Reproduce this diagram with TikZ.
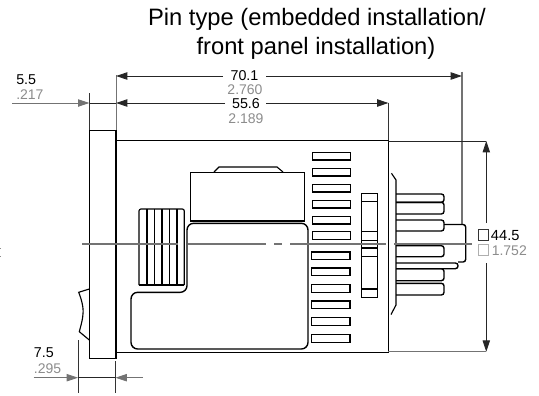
\documentclass[tikz,border=0pt]{standalone}
\usepackage{fontspec}
\setmainfont{Liberation Sans}
\usetikzlibrary{arrows.meta}
\definecolor{dimgray}{gray}{0.55}
\definecolor{extgray}{gray}{0.45}
\tikzset{
  outl/.style={draw=black,line width=1.05pt,line join=miter},
  thin outl/.style={draw=black,line width=0.85pt},
  extl/.style={draw=black!80,line width=0.6pt},
  gextl/.style={draw=extgray,line width=0.9pt},
  diml/.style={draw=black!85,line width=0.65pt},
  tip/.style={-{Triangle[length=8.5pt,width=5.5pt]}},
  inch/.style={text=dimgray,font=\fontsize{10.5}{12}\selectfont,inner sep=0pt,anchor=base},
  mm/.style={text=black,font=\fontsize{10.7}{12}\selectfont,inner sep=0pt,anchor=base},
  titletxt/.style={text=black,font=\fontsize{17.8}{20}\selectfont,inner sep=0pt,anchor=base},
  slot/.style={draw=black,line width=1.05pt},
  pinrow/.style={draw=black,line width=1.05pt,rounded corners=2pt},
}
\begin{document}
\begin{tikzpicture}[x=0.75pt,y=-0.75pt]
\useasboundingbox (0,0) rectangle (539,396);
% title
\node[titletxt] (t1) at (317,25) {Pin type (embedded installation/};
\node[titletxt] (t2) at (316,54) {front panel installation)};
% stray fragment at the left edge
\draw[dimgray,line width=0.5pt] (0,248) -- (1,248) (0,256) -- (1,256);
% extension lines
\coordinate (e1a) at (89.5,93); \coordinate (e1b) at (89.5,130);
\coordinate (e2a) at (116,75); \coordinate (e2b) at (116,130);
\coordinate (e3a) at (388.5,102.5); \coordinate (e3b) at (388.5,141);
\coordinate (e4a) at (462,71.5); \coordinate (e4b) at (462,224);
\draw[extl] (e1a) -- (e1b);
\draw[gextl,line width=0.75pt] (e2a) -- (e2b);
\draw[extl] (e3a) -- (e3b);
\draw[gextl] (e4a) -- (e4b);
% top dims
\coordinate (d70l) at (116,76); \coordinate (d70r) at (462,76);
\coordinate (d70ml) at (223,76); \coordinate (d70mr) at (266,76);
\draw[diml,tip] (d70ml) -- (d70l);
\draw[diml,tip] (d70mr) -- (d70r);
\coordinate (d55s) at (12,103); \coordinate (d55a) at (89.5,103);
\coordinate (d55l) at (116,103); \coordinate (d55r) at (388.5,103);
\coordinate (d55ml) at (225,103); \coordinate (d55mr) at (266,103);
\draw[gextl,line width=0.6pt,tip] (d55s) -- (d55a);
\draw[diml] (d55a) -- (d55l);
\draw[diml,tip] (d55ml) -- (d55l);
\draw[diml,tip] (d55mr) -- (d55r);
\node[mm] (m70) at (244.5,80) {70.1};
\node[inch] (i70) at (245,94) {2.760};
\node[mm] (m55) at (246,108.3) {55.6};
\node[inch] (i55) at (246,123) {2.189};
\node[mm,anchor=base west] (m5) at (16,84.3) {5.5};
\node[inch,anchor=base west] (i5) at (16,99) {.217};
% panel and body
\draw[outl] (89.5,130.3) rectangle (116,358.7);
\draw[outl,line width=1.3pt] (116,130.3) -- (116,358.7);
\draw[outl] (116,140.7) -- (388.3,140.7) -- (388.3,352.7) -- (116,352.7);
% thumb tab
\draw[thin outl] (89.3,289) -- (78.7,292.3) .. controls (82.5,302) and (84,310) .. (82.7,317) .. controls (82,322) and (80.5,327) .. (79.3,331.7) -- (89.3,340);
% top box and bump
\draw[outl] (190.7,172.3) rectangle (304.3,221);
\draw[thin outl] (214,172) -- (219,167) -- (277,167) -- (283,172);
% large rounded window
\draw[outl,rounded corners=5pt] (187,292.3) -- (187,223.3) -- (308,223.3) -- (308,349) -- (131,349) -- (131,292.3) -- cycle;
% knurl
\draw[thin outl,rounded corners=1.5pt] (139,285) -- (139,209) -- (184.3,209) -- (184.3,285);
\draw[thin outl] (139,285) -- (184.3,285);
\foreach \kx in {147,154.5,162,169.5,177}
  \draw[thin outl] (\kx,209) -- (\kx,285);
% slots
\foreach \sy in {152.3,168.3,184.3,200.3,216.3,231.7}
  \draw[slot] (312.7,\sy) rectangle ++(38,7.7);
\foreach \sy in {252,268,284.5,301,317.7,334.5}
  \draw[slot] (311.7,\sy) rectangle ++(38.3,7.7);
% vertical element
\draw[outl] (361.7,193.3) rectangle (377.3,297.5);
\foreach \vy in {201.7,231.7,240.7,248,256.7,289}
  \draw[outl] (361.7,\vy) -- (377.3,\vy);
% right plate
\draw[thin outl] (391.5,173.3) -- (396,180) -- (396,305) -- (391,314.5);
% pins
\draw[pinrow] (396,194) -- (444,194) -- (444,202.3) -- (396,202.3);
\draw[pinrow] (396,202.3) -- (444,202.3) -- (444,214) -- (396,214);
\draw[pinrow] (396,220) -- (444,220) -- (444,231) -- (396,231);
\draw[pinrow] (396,245.7) -- (444,245.7) -- (444,256.7) -- (396,256.7);
\draw[pinrow] (396,263) -- (458,263) -- (458,268.7) -- (396,268.7);
\draw[pinrow] (396,268.7) -- (444,268.7) -- (444,280.7) -- (396,280.7);
\draw[pinrow] (396,283.3) -- (444,283.3) -- (444,295) -- (396,295);
\draw[pinrow] (444,224.5) -- (465.7,224.5) -- (465.7,262) -- (458,262);
% centre line
\foreach \a/\b in {82/178,188/266,274/282,290/386,394/472}
  \draw[draw=extgray,line width=0.85pt] (\a,244) -- (\b,244);
% right dim
\coordinate (rt) at (486.3,141); \coordinate (rb) at (486.3,351.7);
\coordinate (rm1) at (486.3,223); \coordinate (rm2) at (486.3,263);
\coordinate (b1) at (388.3,141); \coordinate (b2) at (388.3,351.7);
\draw[diml] (b1) -- (rt);
\draw[gextl,line width=0.7pt] (b2) -- (rb);
\draw[diml,tip] (rm1) -- (rt);
\draw[diml,tip] (rm2) -- (rb);
\node[draw=black!80,line width=0.4pt,minimum size=7.8pt,inner sep=0pt,anchor=west] (sq1) at (478,234.7) {};
\node[mm,anchor=base west,font=\fontsize{11}{12}\selectfont] (m44) at (490.7,240) {44.5};
\node[draw=dimgray!70,line width=0.4pt,minimum size=7.8pt,inner sep=0pt,anchor=west] (sq2) at (478,249.7) {};
\node[inch,anchor=base west] (i44) at (491.5,255) {1.752};
% bottom dim
\coordinate (x1a) at (78,340); \coordinate (x1b) at (78,393);
\coordinate (x2a) at (115.5,361); \coordinate (x2b) at (115.5,393);
\draw[extl] (x1a) -- (x1b);
\draw[extl] (x2a) -- (x2b);
\coordinate (bl) at (33.7,377.7); \coordinate (br) at (143,377.7);
\coordinate (bd1) at (78,377.7); \coordinate (bd2) at (115.5,377.7);
\draw[gextl,line width=0.6pt,tip] (bl) -- (bd1);
\draw[diml] (bd1) -- (bd2);
\draw[gextl,line width=0.6pt,tip] (br) -- (bd2);
\node[mm,anchor=base west] (m7) at (33.7,357.7) {7.5};
\node[inch,anchor=base west] (i7) at (33.7,373.3) {.295};
\end{tikzpicture}
\end{document}
